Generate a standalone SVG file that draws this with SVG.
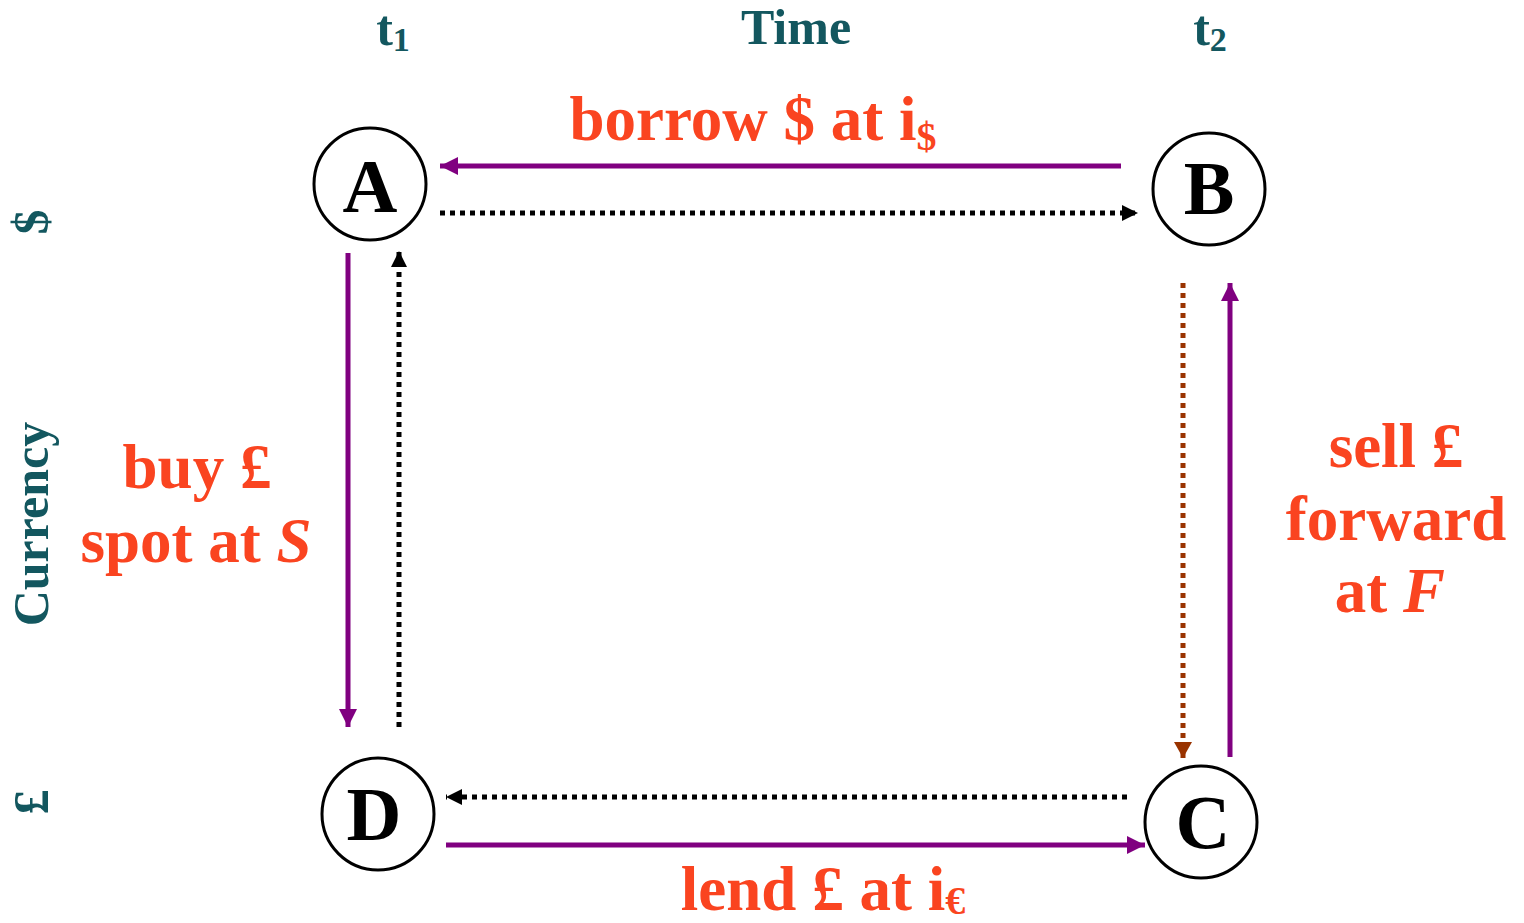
<svg xmlns="http://www.w3.org/2000/svg" width="1524" height="923" viewBox="0 0 1524 923">
<style>
.node{fill:#fff;stroke:#000;stroke-width:3}
.nl{font-family:"Liberation Serif",serif;font-weight:bold;font-size:76px;fill:#000;text-anchor:middle}
.ax{font-family:"Liberation Serif",serif;font-weight:bold;font-size:50px;fill:#13575F;text-anchor:middle}
.lb{font-family:"Liberation Serif",serif;font-weight:bold;font-size:63px;fill:#FA4420;text-anchor:middle}
.sol{stroke:#800080;stroke-width:5;fill:none}
.dot{stroke:#000;stroke-width:5;stroke-dasharray:5 5;fill:none}
.dotb{stroke:#993300;stroke-width:5;stroke-dasharray:5 5;fill:none}
</style>
<defs>
<marker id="mp" markerUnits="userSpaceOnUse" markerWidth="20" markerHeight="18" refX="18" refY="9" orient="auto"><path d="M0,0 L18,9 L0,18 Z" fill="#800080"/></marker>
<marker id="mk" markerUnits="userSpaceOnUse" markerWidth="18" markerHeight="16" refX="16" refY="8" orient="auto"><path d="M0,0 L16,8 L0,16 Z" fill="#000"/></marker>
<marker id="mb" markerUnits="userSpaceOnUse" markerWidth="18" markerHeight="18" refX="16" refY="9" orient="auto"><path d="M0,0 L16,9 L0,18 Z" fill="#993300"/></marker>
</defs>
<g id="axes">
<text class="ax" x="393" y="45">t<tspan font-size="34" dy="6">1</tspan></text>
<text class="ax" x="796" y="44">Time</text>
<text class="ax" x="1210" y="45">t<tspan font-size="34" dy="6">2</tspan></text>
<text class="ax" transform="translate(48,222) rotate(-90)">$</text>
<text class="ax" transform="translate(48,524) rotate(-90)">Currency</text>
<text class="ax" transform="translate(48,802) rotate(-90)">£</text>
</g>
<g id="connectors">
<line class="sol" x1="1121" y1="166" x2="440" y2="166" marker-end="url(#mp)"/>
<line class="dot" x1="440" y1="213" x2="1138" y2="213" marker-end="url(#mk)"/>
<line class="sol" x1="348" y1="253" x2="348" y2="727" marker-end="url(#mp)"/>
<line class="dot" x1="399" y1="727" x2="399" y2="251" marker-end="url(#mk)"/>
<line class="dotb" x1="1183" y1="283" x2="1183" y2="758" marker-end="url(#mb)"/>
<line class="sol" x1="1230" y1="757" x2="1230" y2="283" marker-end="url(#mp)"/>
<line class="dot" x1="1127" y1="797" x2="446" y2="797" marker-end="url(#mk)"/>
<line class="sol" x1="446" y1="845" x2="1145" y2="845" marker-end="url(#mp)"/>
</g>
<g id="labels">
<text class="lb" x="753" y="140">borrow $ at i<tspan font-size="40" dy="10">$</tspan></text>
<text class="lb" x="197" y="488">buy £</text>
<text class="lb" x="196" y="562">spot at <tspan font-style="italic">S</tspan></text>
<text class="lb" x="1396" y="467">sell £</text>
<text class="lb" x="1396" y="540">forward</text>
<text class="lb" x="1390" y="612">at <tspan font-style="italic">F</tspan></text>
<text class="lb" x="823" y="910">lend £ at i<tspan font-size="40" dy="4">€</tspan></text>
</g>
<g id="node-A"><circle class="node" cx="370" cy="184" r="56"/><text class="nl" x="370" y="212">A</text></g>
<g id="node-B"><circle class="node" cx="1209" cy="189" r="56"/><text class="nl" x="1209" y="214">B</text></g>
<g id="node-C"><circle class="node" cx="1201" cy="822" r="56"/><text class="nl" x="1203" y="848">C</text></g>
<g id="node-D"><circle class="node" cx="378" cy="814" r="56"/><text class="nl" x="374" y="840">D</text></g>
</svg>
